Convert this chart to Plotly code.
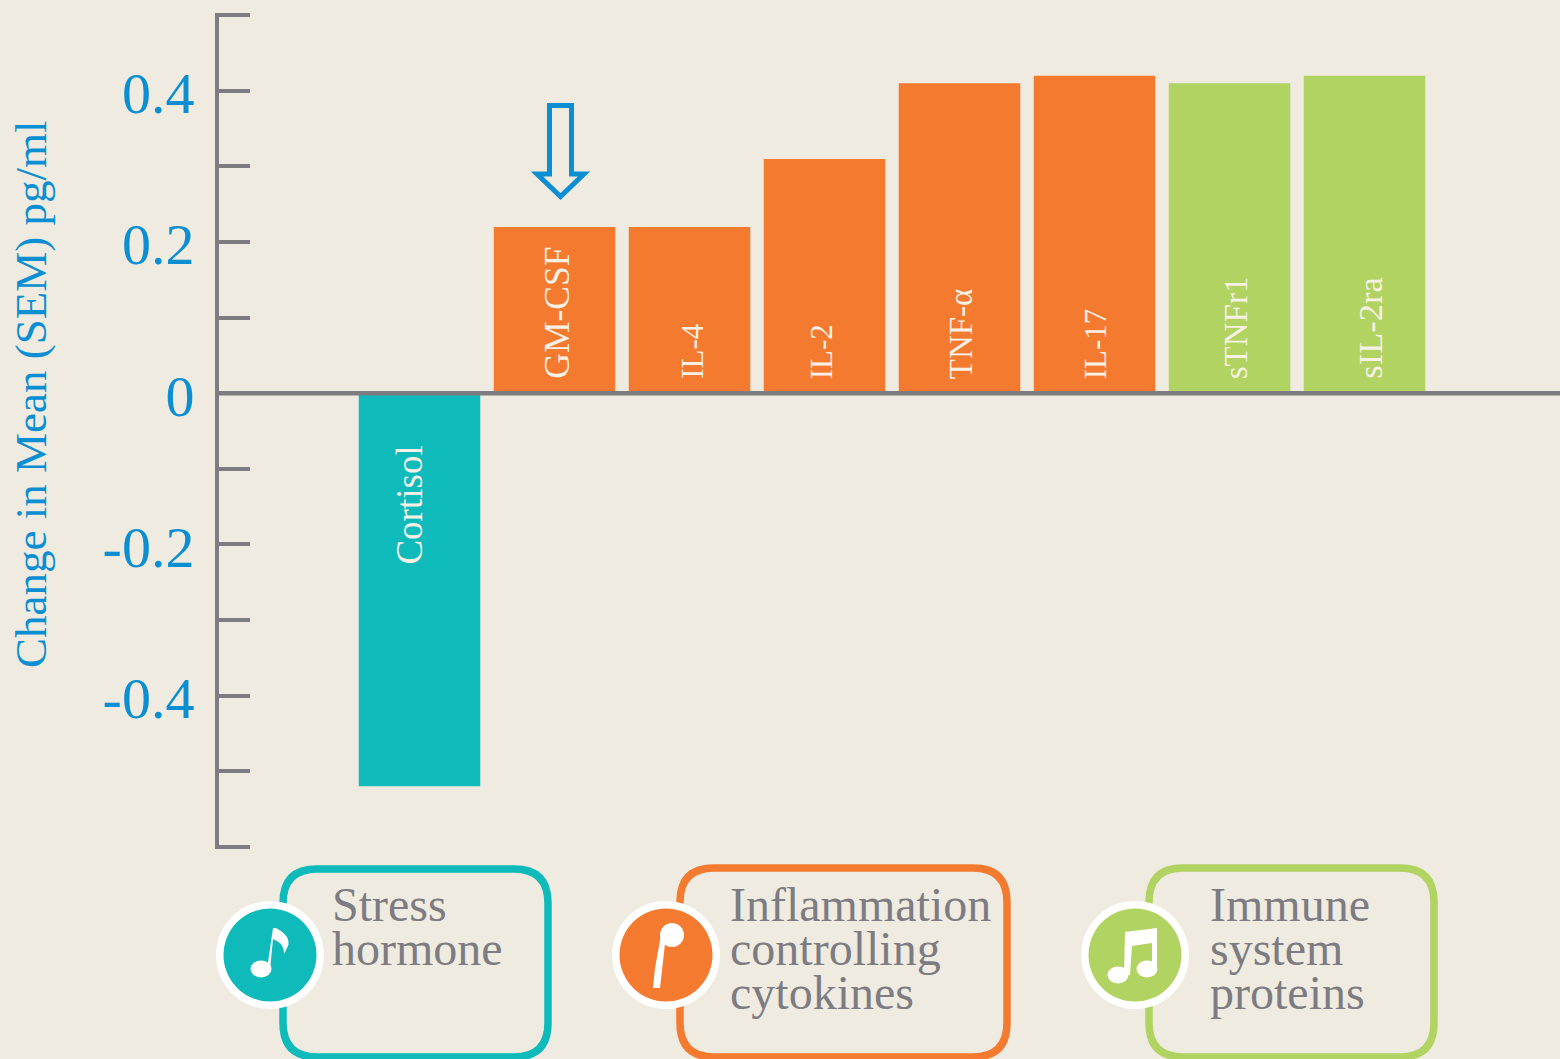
import plotly.graph_objects as go

categories = ["Cortisol", "GM-CSF", "IL-4", "IL-2", "TNF-α", "IL-17", "sTNFr1", "sIL-2ra"]
values = [-0.52, 0.22, 0.22, 0.31, 0.41, 0.42, 0.41, 0.42]
groups = ["hormone", "cytokine", "cytokine", "cytokine", "cytokine", "cytokine", "protein", "protein"]
group_colors = {"hormone": "#0FBABB", "cytokine": "#F47A30", "protein": "#B1D361"}
tick_values = [-0.6, -0.5, -0.4, -0.3, -0.2, -0.1, 0, 0.1, 0.2, 0.3, 0.4, 0.5]
tick_labels = ["", "", "-0.4", "", "-0.2", "", "0", "", "0.2", "", "0.4", ""]
y_title = "Change in Mean (SEM) pg/ml"

BG = "#EFEBE1"
GREY = "#7C7C82"
BLUE = "#0B8FD2"
W, H = 1560, 1059
SERIF = "Liberation Serif"
ML, MT, MB = 219, 13, 210


def px(x):
    return (x - ML) / (W - ML)


def py(y):
    return (H - MB - y) / (H - MB - MT)


def path(cmds):
    out = []
    for c in cmds:
        if isinstance(c, str):
            out.append(c)
        else:
            out.append(f"{px(c[0]):.5f},{py(c[1]):.5f}")
    return " ".join(out)


def shape_path(cmds, fill=None, line=None, width=0):
    return dict(type="path", xref="paper", yref="paper", path=path(cmds),
                fillcolor=fill if fill else "rgba(0,0,0,0)",
                line=dict(color=line if line else "rgba(0,0,0,0)", width=width), layer="above")


def rrect(x0, y0, x1, y1, r, color):
    return shape_path(["M", (x0 + r, y0), "L", (x1 - r, y0), "Q", (x1, y0), (x1, y0 + r),
                       "L", (x1, y1 - r), "Q", (x1, y1), (x1 - r, y1),
                       "L", (x0 + r, y1), "Q", (x0, y1), (x0, y1 - r),
                       "L", (x0, y0 + r), "Q", (x0, y0), (x0 + r, y0), "Z"], line=color, width=7.5)


def ellipse(cx, cy, rx, ry, fill):
    return dict(type="circle", xref="paper", yref="paper", x0=px(cx - rx), x1=px(cx + rx),
                y0=py(cy + ry), y1=py(cy - ry), fillcolor=fill, line=dict(width=0), layer="above")


fig = go.Figure(go.Bar(
    x=list(range(len(categories))),
    y=values,
    width=0.9,
    marker=dict(color=[group_colors[g] for g in groups], line=dict(width=0)),
    hovertext=categories,
    hoverinfo="text",
))

shapes = [dict(type="line", xref="paper", yref="y", x0=0, x1=1, y0=0, y1=0,
               line=dict(color=GREY, width=4.5), layer="above")]
# legend frames
shapes += [rrect(283, 869, 548, 1057, 34, group_colors["hormone"]),
           rrect(680, 868, 1007, 1057, 34, group_colors["cytokine"]),
           rrect(1149, 868, 1434, 1057, 34, group_colors["protein"])]
# badges
for cx, key in [(270, "hormone"), (666, "cytokine"), (1135, "protein")]:
    shapes += [ellipse(cx, 955, 54, 54, "#FFFFFF"), ellipse(cx, 955, 46.5, 46.5, group_colors[key])]
# eighth note
shapes += [ellipse(261, 969, 10.5, 8.5, "#FFFFFF"),
           shape_path(["M", (267, 969), "L", (273, 928), "L", (276, 928), "Q", (291, 936), (288, 946),
                       "L", (284, 954), "Q", (285, 944), (273, 939), "L", (270, 970), "Z"], fill="#FFFFFF")]
# stemmed note
shapes += [ellipse(672, 935, 12, 12, "#FFFFFF"),
           shape_path(["M", (661, 935), "L", (666, 935), "L", (660, 988), "L", (653, 988), "L", (655, 968), "Z"],
                      fill="#FFFFFF")]
# beamed notes
shapes += [ellipse(1118, 975, 10.5, 8.5, "#FFFFFF"), ellipse(1147, 969, 10.5, 8.5, "#FFFFFF"),
           shape_path(["M", (1125, 932), "L", (1157, 928), "L", (1157, 972), "L", (1152, 972), "L", (1152, 943),
                       "L", (1132, 946), "L", (1130, 975), "L", (1124, 975), "Z"], fill="#FFFFFF")]
# arrow over GM-CSF
shapes.append(shape_path(["M", (549.5, 105.5), "L", (571.5, 105.5), "L", (571.5, 174), "L", (584, 174),
                          "L", (560.5, 196.5), "L", (537, 174), "L", (549.5, 174), "Z"], line=BLUE, width=5))

ann = []
label_shift = [-10, 3, 3, -3, 1, 1, 6, 6]
label_y = [-0.148, 0, 0, 0, 0, 0, 0, 0]
label_size = [37, 35.5, 31, 31, 33, 31, 33, 34.5]
for i, (name, sh, ly, sz) in enumerate(zip(categories, label_shift, label_y, label_size)):
    ann.append(dict(x=i, y=ly, xref="x", yref="y", text=name, textangle=-90, showarrow=False,
                    xanchor="center", yanchor="bottom" if ly == 0 else "middle", xshift=sh,
                    yshift=12 if ly == 0 else 0,
                    font=dict(family=SERIF, size=sz, color="#F7F0E4")))

legend_lines = [("Stress", 330, 905), ("hormone", 330, 948),
                ("Inflammation", 728, 905), ("controlling", 728, 948), ("cytokines", 728, 992),
                ("Immune", 1208, 905), ("system", 1208, 948), ("proteins", 1208, 992)]
for text, x, y in legend_lines:
    ann.append(dict(x=px(x), y=py(y), xref="paper", yref="paper", text=text, showarrow=False,
                    xanchor="left", yanchor="middle", font=dict(family=SERIF, size=48, color=GREY)))

ann.append(dict(x=px(31), y=py(395), xref="paper", yref="paper", text=y_title, textangle=-90,
                showarrow=False, xanchor="center", yanchor="middle",
                font=dict(family=SERIF, size=45, color=BLUE)))

x_lo = (ML - 419.5) / 135
fig.update_layout(
    width=W, height=H, autosize=False,
    margin=dict(l=ML, r=0, t=MT, b=MB, pad=0),
    paper_bgcolor=BG, plot_bgcolor=BG,
    showlegend=False, bargap=0.1,
    shapes=shapes, annotations=ann,
    xaxis=dict(range=[x_lo, 8.448], showticklabels=False, ticks="", showgrid=False,
               zeroline=False, showline=False, fixedrange=True),
    yaxis=dict(range=[-0.603, 0.503], tickmode="array", tickvals=tick_values, ticktext=tick_labels,
               ticks="inside", ticklen=31, tickwidth=4, tickcolor=GREY,
               showline=True, linewidth=4, linecolor=GREY, showgrid=False,
               zeroline=False,
               tickfont=dict(family=SERIF, size=58, color=BLUE),
               ticklabelstandoff=9, ticklabelshift=2),
)
fig.write_html("out.html", config={"displayModeBar": False},
               post_script="document.body.style.margin='0';document.documentElement.style.overflow='hidden';")
